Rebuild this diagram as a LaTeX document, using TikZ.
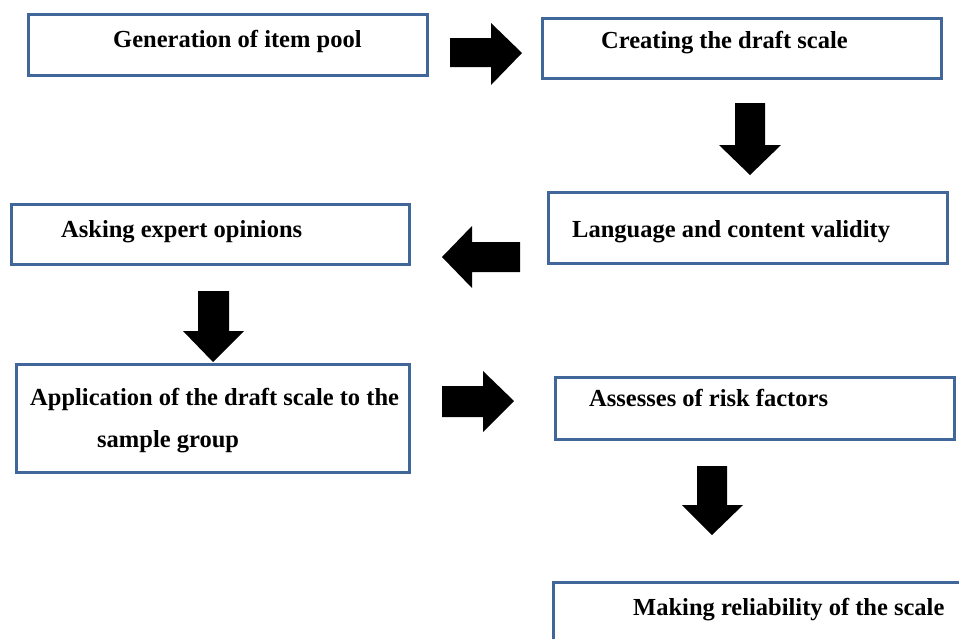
\documentclass[tikz,border=0pt]{standalone}
\usepackage{fontspec}
\setmainfont{Liberation Serif}
\definecolor{boxblue}{RGB}{65,103,154}
\begin{document}
\begin{tikzpicture}[x=1pt,y=-1pt,
  stepbox/.style={draw=boxblue,line width=3pt,fill=white},
  lbl/.style={anchor=base west,inner sep=0pt,font=\fontsize{24.5}{29}\selectfont\bfseries},
  blockarrow/.style={fill=black,draw=none}]
\clip (0,0) rectangle (959,638);
\fill[white] (0,0) rectangle (959,638);
% boxes
\draw[stepbox] (28.5,14.5) rectangle (427.5,75.5);
\draw[stepbox] (542.5,18.5) rectangle (941.5,78.5);
\draw[stepbox] (548.5,192.5) rectangle (947.5,263.5);
\draw[stepbox] (11.5,204.5) rectangle (409.5,264.5);
\draw[stepbox] (16.5,364.5) rectangle (409.5,472.5);
\draw[stepbox] (555.5,377.5) rectangle (954.5,439.5);
\draw[stepbox] (553.5,582.5) rectangle (990,700);
% labels
\node[lbl] (t1) at (113,47) {Generation of item pool};
\node[lbl] (t2) at (601,48) {Creating the draft scale};
\node[lbl] (t3) at (572,237) {Language and content validity};
\node[lbl] (t4) at (61,237) {Asking expert opinions};
\node[lbl] (t5a) at (30,405) {Application of the draft scale to the};
\node[lbl] (t5b) at (97,447) {sample group};
\node[lbl] (t6) at (589,406) {Assesses of risk factors};
\node[lbl] (t7) at (633,615) {Making reliability of the scale};
% block arrows
\fill[blockarrow] (450,38) -- (491,38) -- (491,23) -- (522,53) -- (491,85) -- (491,67) -- (450,67) -- cycle;
\fill[blockarrow] (735,103) -- (765,103) -- (765,145) -- (781,145) -- (750,175) -- (719,145) -- (735,145) -- cycle;
\fill[blockarrow] (520,242) -- (472,242) -- (472,226) -- (442,257) -- (472,288) -- (472,272) -- (520,272) -- cycle;
\fill[blockarrow] (198,291) -- (229,291) -- (229,331) -- (244,331) -- (213,362) -- (183,331) -- (198,331) -- cycle;
\fill[blockarrow] (442,386) -- (483,386) -- (483,371) -- (514,401) -- (483,432) -- (483,417) -- (442,417) -- cycle;
\fill[blockarrow] (697,466) -- (727,466) -- (727,505) -- (743,505) -- (712,535) -- (682,505) -- (697,505) -- cycle;
\end{tikzpicture}
\end{document}
